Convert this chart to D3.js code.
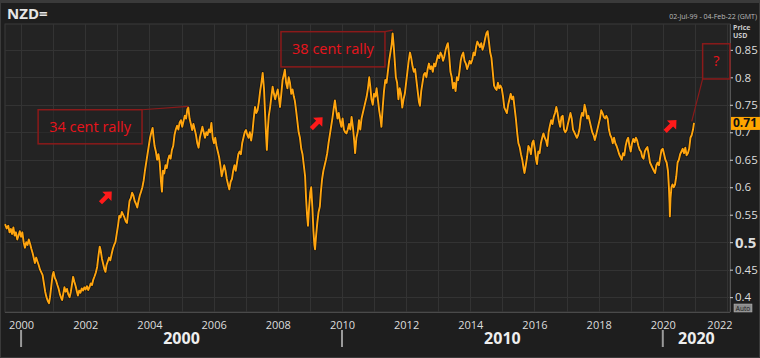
<!DOCTYPE html>
<html><head><meta charset="utf-8">
<script src="https://cdn.jsdelivr.net/npm/d3@7"></script>
<style>
html,body{margin:0;padding:0;background:#1e1e1e;}
svg{display:block;font-family:"Open Sans","Noto Sans",sans-serif;}
</style></head>
<body><svg id="c" width="760" height="358"></svg>
<script>
// ---- data (decimal year, NZD/USD) ----
const times = [
1999.50,1999.55,1999.60,1999.64,1999.68,1999.72,1999.76,1999.80,1999.84,1999.88,1999.92,1999.96,
2000.00,2000.04,2000.08,2000.12,2000.16,2000.20,2000.24,2000.28,2000.32,2000.36,2000.40,2000.43,2000.47,2000.51,2000.55,2000.59,2000.63,2000.67,2000.71,2000.75,2000.79,2000.83,2000.87,2000.90,2000.94,2000.98,
2001.01,2001.05,2001.09,2001.13,2001.17,2001.21,2001.25,2001.28,2001.31,2001.35,2001.39,2001.43,2001.47,2001.51,2001.55,2001.59,2001.62,2001.66,2001.70,2001.74,2001.77,2001.81,2001.85,2001.89,2001.93,2001.97,
2002.01,2002.05,2002.09,2002.13,2002.17,2002.21,2002.25,2002.29,2002.33,2002.37,2002.41,2002.45,2002.48,2002.52,2002.56,2002.60,2002.63,2002.66,2002.70,2002.74,2002.78,2002.82,2002.86,2002.90,2002.94,2002.98,
2003.02,2003.06,2003.10,2003.14,2003.18,2003.22,2003.26,2003.30,2003.34,2003.38,2003.42,2003.46,2003.50,2003.54,2003.58,2003.62,2003.66,2003.70,2003.74,2003.78,2003.82,2003.86,2003.90,2003.94,2003.98,
2004.02,2004.06,2004.10,2004.13,2004.16,2004.20,2004.24,2004.28,2004.32,2004.36,2004.39,2004.42,2004.46,2004.50,2004.54,2004.58,2004.62,2004.66,2004.70,2004.74,2004.78,2004.82,2004.86,2004.90,2004.94,2004.98,
2005.02,2005.06,2005.10,2005.14,2005.18,2005.21,2005.25,2005.29,2005.33,2005.37,2005.41,2005.45,2005.49,2005.53,2005.57,2005.61,2005.65,2005.69,2005.73,2005.77,2005.81,2005.85,2005.89,2005.93,2005.97,
2006.01,2006.05,2006.09,2006.13,2006.17,2006.21,2006.25,2006.29,2006.33,2006.37,2006.41,2006.45,2006.49,2006.53,2006.57,2006.61,2006.65,2006.69,2006.73,2006.77,2006.81,2006.85,2006.89,2006.93,2006.97,
2007.01,2007.05,2007.09,2007.13,2007.17,2007.21,2007.25,2007.29,2007.33,2007.37,2007.41,2007.45,2007.49,2007.53,2007.57,2007.60,2007.63,2007.66,2007.69,2007.72,2007.76,2007.80,2007.84,2007.88,2007.92,2007.96,
2008.00,2008.04,2008.07,2008.11,2008.15,2008.19,2008.22,2008.26,2008.30,2008.34,2008.38,2008.42,2008.46,2008.50,2008.53,2008.57,2008.61,2008.65,2008.69,2008.73,2008.77,2008.81,2008.85,2008.88,2008.91,2008.94,2008.97,
2009.01,2009.04,2009.08,2009.11,2009.14,2009.16,2009.19,2009.23,2009.27,2009.31,2009.34,2009.38,2009.42,2009.46,2009.50,2009.54,2009.58,2009.62,2009.66,2009.70,2009.74,2009.78,2009.82,2009.86,2009.90,2009.94,2009.98,
2010.02,2010.06,2010.10,2010.14,2010.18,2010.22,2010.26,2010.30,2010.34,2010.38,2010.41,2010.45,2010.49,2010.53,2010.57,2010.61,2010.65,2010.69,2010.73,2010.77,2010.81,2010.85,2010.88,2010.92,2010.96,
2011.00,2011.04,2011.08,2011.12,2011.16,2011.20,2011.23,2011.27,2011.31,2011.35,2011.39,2011.43,2011.47,2011.51,2011.55,2011.58,2011.61,2011.64,2011.68,2011.72,2011.76,2011.80,2011.84,2011.88,2011.92,2011.96,
2012.00,2012.04,2012.08,2012.12,2012.16,2012.20,2012.24,2012.28,2012.32,2012.36,2012.40,2012.43,2012.47,2012.51,2012.55,2012.59,2012.63,2012.67,2012.71,2012.75,2012.79,2012.83,2012.87,2012.91,2012.95,2012.99,
2013.03,2013.07,2013.11,2013.15,2013.19,2013.23,2013.27,2013.30,2013.34,2013.38,2013.42,2013.46,2013.50,2013.54,2013.58,2013.62,2013.66,2013.70,2013.74,2013.78,2013.82,2013.86,2013.90,2013.94,2013.98,
2014.02,2014.06,2014.10,2014.14,2014.18,2014.22,2014.26,2014.30,2014.34,2014.38,2014.42,2014.46,2014.50,2014.54,2014.58,2014.62,2014.66,2014.70,2014.74,2014.78,2014.82,2014.86,2014.90,2014.94,2014.98,
2015.02,2015.06,2015.10,2015.14,2015.18,2015.22,2015.26,2015.30,2015.34,2015.38,2015.42,2015.46,2015.50,2015.54,2015.58,2015.62,2015.66,2015.69,2015.73,2015.77,2015.81,2015.85,2015.89,2015.93,2015.97,
2016.01,2016.05,2016.08,2016.12,2016.16,2016.20,2016.24,2016.28,2016.32,2016.36,2016.40,2016.44,2016.48,2016.52,2016.56,2016.60,2016.64,2016.68,2016.72,2016.76,2016.80,2016.84,2016.88,2016.92,2016.96,
2017.00,2017.04,2017.08,2017.12,2017.16,2017.20,2017.24,2017.28,2017.32,2017.36,2017.40,2017.44,2017.48,2017.52,2017.56,2017.60,2017.64,2017.68,2017.72,2017.76,2017.80,2017.84,2017.88,2017.92,2017.96,
2018.00,2018.04,2018.08,2018.12,2018.16,2018.20,2018.24,2018.28,2018.32,2018.36,2018.40,2018.44,2018.48,2018.52,2018.56,2018.60,2018.64,2018.68,2018.72,2018.76,2018.80,2018.84,2018.88,2018.92,2018.96,
2019.00,2019.04,2019.08,2019.12,2019.16,2019.20,2019.24,2019.28,2019.32,2019.36,2019.40,2019.44,2019.48,2019.52,2019.56,2019.60,2019.64,2019.68,2019.72,2019.76,2019.80,2019.84,2019.88,2019.92,2019.96,
2020.00,2020.04,2020.08,2020.12,2020.16,2020.19,2020.21,2020.22,2020.24,2020.27,2020.30,2020.34,2020.38,2020.42,2020.46,2020.50,2020.54,2020.58,2020.62,2020.66,2020.70,2020.74,2020.78,2020.82,2020.86,2020.90,2020.94,2020.97
];
const rates = [
0.533,0.525,0.530,0.518,0.524,0.515,0.527,0.512,0.518,0.505,0.512,0.520,
0.510,0.518,0.500,0.490,0.500,0.495,0.505,0.497,0.488,0.480,0.470,0.462,0.472,0.465,0.458,0.450,0.445,0.440,0.425,0.410,0.400,0.393,0.389,0.400,0.420,0.440,
0.446,0.435,0.430,0.422,0.415,0.405,0.398,0.395,0.405,0.418,0.410,0.415,0.405,0.400,0.410,0.425,0.437,0.428,0.420,0.410,0.403,0.412,0.408,0.416,0.412,0.418,
0.414,0.420,0.413,0.418,0.425,0.422,0.432,0.438,0.445,0.455,0.475,0.492,0.485,0.470,0.460,0.450,0.446,0.458,0.465,0.472,0.467,0.478,0.488,0.495,0.500,0.515,
0.530,0.548,0.545,0.555,0.550,0.545,0.538,0.535,0.555,0.575,0.580,0.590,0.585,0.575,0.570,0.563,0.575,0.585,0.592,0.600,0.612,0.630,0.645,0.660,0.675,
0.690,0.700,0.708,0.690,0.675,0.665,0.650,0.660,0.645,0.610,0.592,0.630,0.625,0.640,0.635,0.650,0.658,0.652,0.668,0.675,0.695,0.705,0.712,0.705,0.718,0.722,
0.710,0.720,0.730,0.725,0.742,0.745,0.725,0.715,0.704,0.715,0.705,0.695,0.680,0.672,0.690,0.700,0.710,0.700,0.690,0.700,0.695,0.705,0.700,0.717,0.690,
0.680,0.690,0.675,0.665,0.655,0.640,0.620,0.630,0.640,0.630,0.615,0.605,0.596,0.610,0.615,0.630,0.640,0.630,0.645,0.660,0.665,0.660,0.680,0.690,0.700,
0.704,0.695,0.690,0.700,0.685,0.700,0.725,0.746,0.735,0.740,0.755,0.775,0.790,0.808,0.780,0.740,0.700,0.668,0.705,0.730,0.745,0.765,0.783,0.770,0.760,0.770,
0.778,0.760,0.746,0.770,0.795,0.805,0.814,0.790,0.780,0.800,0.790,0.770,0.778,0.765,0.758,0.740,0.720,0.700,0.690,0.670,0.660,0.640,0.620,0.580,0.550,0.530,0.560,
0.590,0.600,0.560,0.520,0.495,0.487,0.510,0.535,0.555,0.565,0.590,0.615,0.630,0.640,0.650,0.662,0.680,0.695,0.710,0.725,0.742,0.758,0.740,0.725,0.735,0.720,0.710,
0.725,0.705,0.700,0.698,0.705,0.715,0.705,0.728,0.710,0.685,0.662,0.690,0.700,0.722,0.705,0.725,0.735,0.745,0.755,0.765,0.780,0.800,0.785,0.760,0.750,
0.770,0.765,0.780,0.760,0.740,0.725,0.710,0.745,0.775,0.795,0.790,0.810,0.830,0.845,0.860,0.880,0.860,0.835,0.800,0.790,0.760,0.780,0.770,0.745,0.760,0.770,
0.790,0.810,0.830,0.845,0.835,0.820,0.810,0.815,0.795,0.775,0.755,0.748,0.775,0.790,0.805,0.808,0.800,0.815,0.825,0.815,0.820,0.810,0.825,0.820,0.830,0.840,
0.835,0.845,0.840,0.830,0.838,0.850,0.858,0.862,0.840,0.810,0.800,0.780,0.790,0.775,0.800,0.795,0.810,0.830,0.840,0.845,0.830,0.825,0.815,0.822,0.830,
0.825,0.832,0.845,0.840,0.855,0.865,0.860,0.855,0.862,0.850,0.858,0.870,0.880,0.884,0.865,0.845,0.835,0.810,0.785,0.780,0.777,0.790,0.780,0.785,0.780,
0.765,0.745,0.740,0.735,0.750,0.760,0.770,0.760,0.765,0.745,0.725,0.700,0.680,0.673,0.660,0.650,0.635,0.626,0.640,0.655,0.675,0.670,0.660,0.680,0.685,
0.670,0.650,0.642,0.665,0.662,0.680,0.690,0.698,0.690,0.685,0.675,0.700,0.712,0.722,0.715,0.728,0.735,0.746,0.735,0.720,0.710,0.728,0.730,0.705,0.700,
0.704,0.715,0.725,0.735,0.725,0.705,0.700,0.695,0.690,0.695,0.705,0.725,0.735,0.730,0.750,0.740,0.725,0.730,0.720,0.710,0.700,0.695,0.686,0.695,0.705,
0.715,0.725,0.740,0.735,0.728,0.725,0.730,0.725,0.705,0.695,0.690,0.680,0.690,0.680,0.675,0.668,0.660,0.655,0.650,0.662,0.658,0.675,0.685,0.690,0.675,
0.665,0.680,0.688,0.682,0.690,0.685,0.675,0.668,0.665,0.655,0.652,0.665,0.670,0.673,0.660,0.645,0.640,0.635,0.630,0.626,0.640,0.645,0.640,0.655,0.668,
0.670,0.660,0.650,0.645,0.630,0.600,0.570,0.547,0.580,0.600,0.605,0.600,0.605,0.620,0.645,0.650,0.660,0.665,0.670,0.662,0.672,0.658,0.662,0.670,0.690,0.695,0.705,0.717
];
const yTicks = [0.4,0.45,0.5,0.55,0.6,0.65,0.7,0.75,0.8,0.85];
const yTickLabels = ["0.4","0.45","0.5","0.55","0.6","0.65","0.7","0.75","0.8","0.85"];
const xTickYears = [2000,2002,2004,2006,2008,2010,2012,2014,2016,2018,2020,2022];
const decades = [2000,2010,2020];
const lastLabel = "0.71";
const annotations = [
  {text:"34 cent rally", t0:2000.53, v0:0.741, t1:2003.77, v1:0.679, from:"tr", tip:[2005.21,0.747]},
  {text:"38 cent rally", t0:2008.10, v0:0.883, t1:2011.34, v1:0.819, from:"tr", tip:[2011.58,0.886]},
  {text:"?", t0:2021.24, v0:0.861, t1:2022.09, v1:0.797, from:"bl", tip:[2020.90,0.720]}
];
const arrows = [[2002.65,0.582],[2009.22,0.717],[2020.25,0.712]];

// ---- helpers ----
function toDate(t){const y=Math.floor(t);const s=Date.UTC(y,0,1),e=Date.UTC(y+1,0,1);return new Date(s+(t-y)*(e-s));}
const data = times.map((t,i)=>({d:toDate(t),v:rates[i]}));

const svg = d3.select("#c");
const W=760,H=358, L=5,R=730,T=24,B=312;
const x = d3.scaleUtc().domain([new Date(Date.UTC(1999,6,2)), new Date(Date.UTC(2022,1,4))]).range([L,R]);
const y = d3.scaleLinear().domain([0.373,0.897]).range([B,T]);

// background and frame
svg.append("rect").attr("width",W).attr("height",H).attr("fill","#1e1e1e");
svg.append("rect").attr("x",0).attr("y",0).attr("width",W).attr("height",3).attr("fill","#3a3a3a");
svg.append("rect").attr("x",0.5).attr("y",0.5).attr("width",W-1).attr("height",H-1).attr("fill","none").attr("stroke","#3a3a3a");
svg.append("rect").attr("x",L).attr("y",T).attr("width",R-L).attr("height",B-T).attr("fill","#232323").attr("stroke","#3a3a3a");

// title & info
svg.append("text").attr("x",7).attr("y",19).attr("fill","#e6e6e6").attr("font-weight","bold").attr("font-size",15).text("NZD=");
svg.append("text").attr("x",757).attr("y",19).attr("text-anchor","end").attr("fill","#bbbbbb").attr("font-size",7).text("02-Jul-99 - 04-Feb-22 (GMT)");
svg.append("text").attr("x",733).attr("y",30).attr("fill","#cccccc").attr("font-size",7).attr("font-weight","bold").text("Price");
svg.append("text").attr("x",733).attr("y",38).attr("fill","#cccccc").attr("font-size",7).attr("font-weight","bold").text("USD");

// grid
const grid = svg.append("g").attr("stroke","#333333").attr("stroke-width",1);
const years = d3.range(2000,2023).map(yr=>new Date(Date.UTC(yr,0,1)));
grid.selectAll("line.v").data(years).join("line").attr("class","v")
  .attr("x1",d=>Math.round(x(d))+0.5).attr("x2",d=>Math.round(x(d))+0.5).attr("y1",T).attr("y2",B);
grid.selectAll("line.h").data(yTicks).join("line").attr("class","h")
  .attr("x1",L).attr("x2",R).attr("y1",d=>Math.round(y(d))+0.5).attr("y2",d=>Math.round(y(d))+0.5);

// axes lines
svg.append("line").attr("x1",R+0.5).attr("x2",R+0.5).attr("y1",T).attr("y2",B).attr("stroke","#555");
svg.append("line").attr("x1",L).attr("x2",R).attr("y1",B+0.5).attr("y2",B+0.5).attr("stroke","#4a4a4a");

// y axis (right)
const yAxis = d3.axisRight(y).tickValues(yTicks).tickSize(3).tickPadding(2).tickFormat((d,i)=>yTickLabels[i]);
const ya = svg.append("g").attr("transform",`translate(${R},0)`).call(yAxis);
ya.select(".domain").remove();
ya.selectAll(".tick line").attr("stroke","#cfcfcf");
ya.selectAll(".tick text").attr("fill","#dddddd").attr("font-family","'Open Sans',sans-serif")
  .attr("font-weight",d=>d===0.5?"bold":"normal").attr("font-size",d=>d===0.5?15:11.5);

// x axis labels
const xAxis = d3.axisBottom(x).tickValues(xTickYears.map(yr=>new Date(Date.UTC(yr,0,1)))).tickSize(0).tickPadding(9).tickFormat(d3.utcFormat("%Y"));
const xa = svg.append("g").attr("transform",`translate(0,${B})`).call(xAxis);
xa.select(".domain").remove();
xa.selectAll(".tick text").attr("fill","#dddddd").attr("font-size",11).attr("font-family","'Open Sans',sans-serif")
  .attr("text-anchor",d=>d.getUTCFullYear()===2022?"end":"middle")
  .attr("dx",d=>d.getUTCFullYear()===2022?"5":"0");

// decade row
decades.forEach((dc,i)=>{
  const xs = x(new Date(Date.UTC(dc,0,1)));
  const xe = i<decades.length-1 ? x(new Date(Date.UTC(decades[i+1],0,1))) : R;
  svg.append("line").attr("x1",xs).attr("x2",xs).attr("y1",330).attr("y2",347).attr("stroke","#9a9a9a").attr("stroke-width",2);
  svg.append("text").attr("x",(xs+xe)/2).attr("y",344).attr("text-anchor","middle").attr("fill","#eeeeee")
    .attr("font-size",16).attr("font-weight","bold").text(dc);
});

// Auto box
svg.append("rect").attr("x",734).attr("y",304).attr("width",18).attr("height",8).attr("fill","#8a8a8a").attr("stroke","#bbb").attr("stroke-width",0.5);
svg.append("text").attr("x",743).attr("y",310.5).attr("text-anchor","middle").attr("font-size",6.5).attr("fill","#1a1a1a").text("Auto");

// line
const line = d3.line().x(d=>x(d.d)).y(d=>y(d.v));
const plot = svg.append("g");
plot.append("path").datum(data).attr("d",line).attr("fill","none").attr("stroke","#0d0d0d").attr("stroke-width",3.4).attr("stroke-linejoin","round").attr("opacity",0.7);
plot.append("path").datum(data).attr("d",line).attr("fill","none").attr("stroke","#ffa50f").attr("stroke-width",1.9).attr("stroke-linejoin","round");

// last value label
const lv = rates[rates.length-1];
svg.append("rect").attr("x",731).attr("y",y(lv)-6).attr("width",29).attr("height",13).attr("fill","#ffa500");
svg.append("text").attr("x",733).attr("y",y(lv)+4.5).attr("font-size",12).attr("font-weight","bold").attr("fill","#111").text(lastLabel);

// annotations
const red="#e8141c", dark="#8b1a1a";
annotations.forEach(a=>{
  const x0=x(toDate(a.t0)), x1=x(toDate(a.t1)), y0=y(a.v0), y1=y(a.v1);
  const sx = a.from==="bl"?x0:x1, sy = a.from==="bl"?y1:y0;
  svg.append("line").attr("x1",sx).attr("y1",sy).attr("x2",x(toDate(a.tip[0]))).attr("y2",y(a.tip[1]))
    .attr("stroke",dark).attr("stroke-width",1.2);
  svg.append("rect").attr("x",x0).attr("y",y0).attr("width",x1-x0).attr("height",y1-y0)
    .attr("fill","#232323").attr("fill-opacity",0.55).attr("stroke",dark).attr("stroke-width",1.5);
  svg.append("text").attr("x",(x0+x1)/2).attr("y",(y0+y1)/2+5).attr("text-anchor","middle")
    .attr("fill",red).attr("font-size",14.5).text(a.text);
});
// arrows
arrows.forEach(a=>{
  const cx=x(toDate(a[0])), cy=y(a[1]);
  svg.append("path").attr("transform",`translate(${cx},${cy}) rotate(-45)`)
    .attr("d","M-8,-2.2 L1,-2.2 L1,-6.5 L8,0 L1,6.5 L1,2.2 L-8,2.2 Z").attr("fill","#ff1a1a");
});
</script></body></html>
